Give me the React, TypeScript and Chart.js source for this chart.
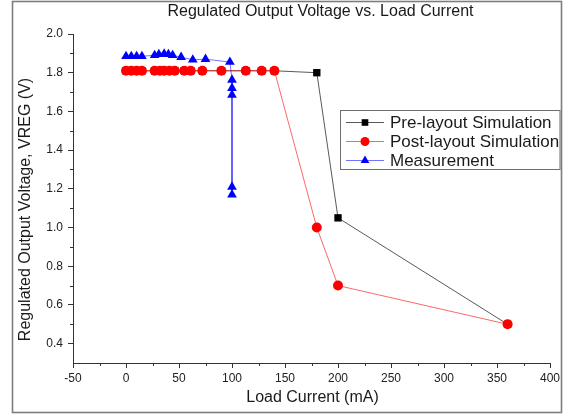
import React, { useEffect, useRef } from "react";
import { Chart, registerables } from "chart.js";

Chart.register(...registerables);

// ---- data ----
const preX = [0, 5, 10, 15, 27, 32, 36, 41, 46, 55, 61, 72, 90, 113, 128, 140, 180, 200, 360];
const preY = [1.81, 1.81, 1.81, 1.81, 1.81, 1.81, 1.81, 1.81, 1.81, 1.81, 1.81, 1.81, 1.81, 1.81, 1.81, 1.81, 1.80, 1.05, 0.5];
const postX = [0, 5, 10, 15, 27, 32, 36, 41, 46, 55, 61, 72, 90, 113, 128, 140, 180, 200, 360];
const postY = [1.81, 1.81, 1.81, 1.81, 1.81, 1.81, 1.81, 1.81, 1.81, 1.81, 1.81, 1.81, 1.81, 1.81, 1.81, 1.81, 1.0, 0.7, 0.5];
const measX = [0, 5, 10, 15, 27, 31, 36, 40, 44, 52, 63, 75, 98, 100, 100, 100, 100, 100];
const measY = [1.885, 1.885, 1.885, 1.885, 1.89, 1.895, 1.897, 1.895, 1.89, 1.88, 1.867, 1.87, 1.855, 1.763, 1.72, 1.685, 1.21, 1.17];

const seriesNames = ["Pre-layout Simulation", "Post-layout Simulation", "Measurement"];
const titleText = "Regulated Output Voltage vs. Load Current";
const xTitle = "Load Current (mA)";
const yTitle = "Regulated Output Voltage, VREG (V)";
const xMin = -50, xMax = 400, xStep = 50;
const yMin = 0.3, yMax = 2.0, yStep = 0.2;

const FONT = "'Liberation Sans', Arial, sans-serif";
const lineColors = ["rgba(0,0,0,0.65)", "rgba(255,0,0,0.6)", "rgba(0,0,255,0.55)"];
const markColors = ["#000000", "#ff0000", "#0000ff"];
const markStyles = ["rect", "circle", "triangle"];
const markRadius = [5.2, 5, 5.6];

function pts(xs: number[], ys: number[]) {
  return xs.map((x, i) => ({ x, y: ys[i] }));
}

function drawMarker(ctx: CanvasRenderingContext2D, style: string, x: number, y: number, r: number, color: string) {
  ctx.save();
  ctx.fillStyle = color;
  ctx.beginPath();
  if (style === "rect") {
    const s = Math.SQRT1_2 * r;
    ctx.rect(x - s, y - s, 2 * s, 2 * s);
  } else if (style === "circle") {
    ctx.arc(x, y, r, 0, Math.PI * 2);
  } else {
    ctx.moveTo(x, y - r);
    ctx.lineTo(x + r * Math.sin(Math.PI / 3), y + r / 2);
    ctx.lineTo(x - r * Math.sin(Math.PI / 3), y + r / 2);
    ctx.closePath();
  }
  ctx.fill();
  ctx.restore();
}

const decor = {
  id: "decor",
  afterDraw(chart: any) {
    const ctx: CanvasRenderingContext2D = chart.ctx;
    const ca = chart.chartArea;
    const xs = chart.scales.x;
    const ys = chart.scales.y;
    ctx.save();
    // frame
    ctx.strokeStyle = "#7d7d7d";
    ctx.lineWidth = 1.6;
    ctx.strokeRect(12.5, 1.5, 549, 411);
    // minor ticks
    ctx.strokeStyle = "#333";
    ctx.lineWidth = 1;
    ctx.beginPath();
    for (let v = xMin + xStep / 2; v < xMax; v += xStep) {
      const px = Math.round(xs.getPixelForValue(v)) + 0.5;
      ctx.moveTo(px, ca.bottom);
      ctx.lineTo(px, ca.bottom + 3);
    }
    for (let v = 0.5; v < yMax; v += yStep) {
      const py = Math.round(ys.getPixelForValue(v)) + 0.5;
      ctx.moveTo(ca.left - 3, py);
      ctx.lineTo(ca.left, py);
    }
    ctx.stroke();
    // title
    ctx.fillStyle = "#1a1a1a";
    ctx.font = `16px ${FONT}`;
    ctx.textAlign = "center";
    ctx.textBaseline = "alphabetic";
    ctx.fillText(titleText, (ca.left + ca.right) / 2 + 9, 16);
    // x title
    ctx.font = `16px ${FONT}`;
    ctx.textBaseline = "middle";
    ctx.fillText(xTitle, (ca.left + ca.right) / 2 + 1, 398);
    // y title
    ctx.save();
    ctx.translate(26, (ca.top + ca.bottom) / 2 + 11);
    ctx.rotate(-Math.PI / 2);
    ctx.font = `16px ${FONT}`;
    ctx.fillText(yTitle, 0, 0);
    ctx.restore();
    // legend
    const lx = 340.5, ly = 110.5, lw = 219.5, lh = 59;
    ctx.fillStyle = "#ffffff";
    ctx.fillRect(lx, ly, lw, lh);
    ctx.strokeStyle = "#6e6e6e";
    ctx.lineWidth = 1;
    ctx.strokeRect(lx, ly, lw, lh);
    const rows = [122, 141, 160];
    ctx.font = `17px ${FONT}`;
    ctx.textAlign = "left";
    ctx.textBaseline = "middle";
    seriesNames.forEach((name, i) => {
      const y = rows[i];
      ctx.strokeStyle = lineColors[i];
      ctx.lineWidth = 1;
      ctx.beginPath();
      ctx.moveTo(346, y + 0.5);
      ctx.lineTo(384, y + 0.5);
      ctx.stroke();
      drawMarker(ctx, markStyles[i], 365, y + 0.5, markRadius[i] * 0.9, markColors[i]);
      ctx.fillStyle = "#1a1a1a";
      ctx.fillText(name, 390, y + 1);
    });
    ctx.restore();
  },
};

export default function App() {
  const ref = useRef<HTMLCanvasElement | null>(null);
  useEffect(() => {
    if (!ref.current) return;
    const datasets = [
      { data: pts(preX, preY), order: 3 },
      { data: pts(postX, postY), order: 2 },
      { data: pts(measX, measY), order: 1 },
    ].map((d, i) => ({
      label: seriesNames[i],
      data: d.data,
      order: d.order,
      showLine: true,
      borderColor: lineColors[i],
      borderWidth: 1,
      backgroundColor: markColors[i],
      pointBackgroundColor: markColors[i],
      pointBorderColor: markColors[i],
      pointBorderWidth: 0,
      pointStyle: markStyles[i] as any,
      pointRadius: markRadius[i],
      tension: 0,
    }));
    const chart = new Chart(ref.current, {
      type: "scatter",
      data: { datasets },
      options: {
        responsive: false,
        animation: false,
        layout: { padding: { top: 34, right: 14, left: 0, bottom: 0 } },
        plugins: { legend: { display: false }, title: { display: false }, tooltip: { enabled: false } },
        scales: {
          x: {
            type: "linear",
            min: xMin,
            max: xMax,
            afterFit: (s: any) => { s.height = 53; },
            ticks: { stepSize: xStep, color: "#222", font: { family: FONT, size: 12 }, padding: 3, maxRotation: 0, autoSkip: false },
            grid: { display: true, drawOnChartArea: false, drawTicks: true, tickLength: 5, tickColor: "#333" },
            border: { display: true, color: "#333", width: 1 },
          },
          y: {
            type: "linear",
            min: yMin,
            max: yMax,
            afterFit: (s: any) => { s.width = 73; },
            afterBuildTicks: (s: any) => {
              s.ticks = s.ticks.filter((t: any) => Math.abs(t.value / yStep - Math.round(t.value / yStep)) < 1e-6);
            },
            ticks: {
              stepSize: yStep,
              color: "#222",
              font: { family: FONT, size: 12 },
              padding: 5,
              callback: (v: any) => Number(v).toFixed(1),
            },
            grid: { display: true, drawOnChartArea: false, drawTicks: true, tickLength: 5, tickColor: "#333" },
            border: { display: true, color: "#333", width: 1 },
          },
        },
      },
      plugins: [decor],
    });
    return () => chart.destroy();
  }, []);
  return (
    <div style={{ position: "fixed", left: 0, top: 0, width: 564, height: 416, background: "#fff" }}>
      <canvas ref={ref} width={564} height={416} style={{ display: "block", width: 564, height: 416 }} />
    </div>
  );
}
